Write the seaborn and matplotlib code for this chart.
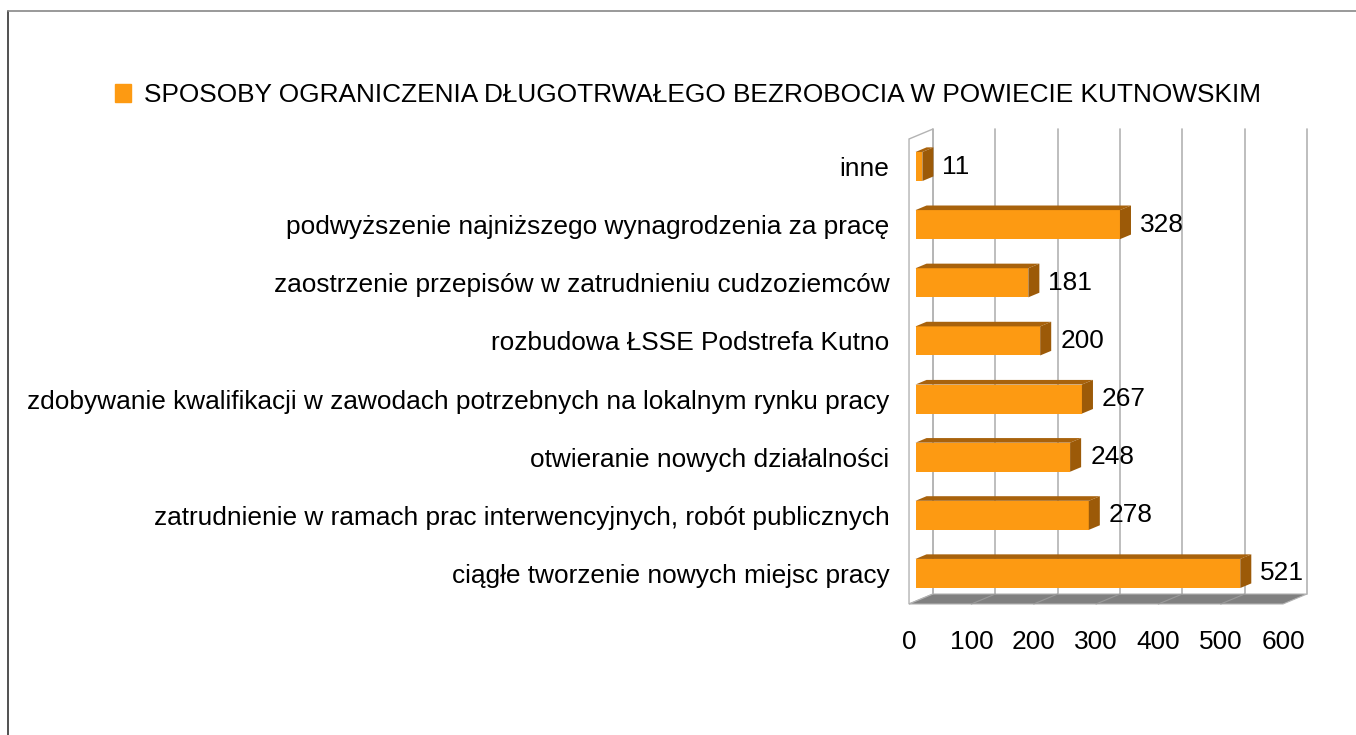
import matplotlib
matplotlib.use('Agg')
import matplotlib.pyplot as plt
import seaborn as sns
import pandas as pd
from matplotlib.patches import Polygon, Patch
from matplotlib.lines import Line2D

# ---------------- data ----------------
categories = [
    "inne",
    "podwyższenie najniższego wynagrodzenia za pracę",
    "zaostrzenie przepisów w zatrudnieniu cudzoziemców",
    "rozbudowa ŁSSE Podstrefa Kutno",
    "zdobywanie kwalifikacji w zawodach potrzebnych na lokalnym rynku pracy",
    "otwieranie nowych działalności",
    "zatrudnienie w ramach prac interwencyjnych, robót publicznych",
    "ciągłe tworzenie nowych miejsc pracy",
]
values = [11, 328, 181, 200, 267, 248, 278, 521]
series_name = "SPOSOBY OGRANICZENIA DŁUGOTRWAŁEGO BEZROBOCIA W POWIECIE KUTNOWSKIM"
x_ticks = [0, 100, 200, 300, 400, 500, 600]

df = pd.DataFrame({"kategoria": categories, "liczba": values})

# ---------------- style ----------------
W, H, DPI = 1356, 735, 100
sns.set_theme(style="white")
plt.rcParams["font.family"] = ["Liberation Sans", "DejaVu Sans"]
plt.rcParams["text.color"] = "black"
plt.rcParams["xtick.color"] = "black"
plt.rcParams["ytick.color"] = "black"
FS = 18.9
FRONT = "#fd9a12"
TOP = "#a8620c"
SIDE = "#9c5a08"
GRID = "#b3b3b3"
FLOOR = "#808080"
FLOOR_GRID = "#9a9a9a"

fig = plt.figure(figsize=(W / DPI, H / DPI), dpi=DPI)
ax_l, ax_r, ax_t, ax_b = 895, 1330, 110, 620
ax = fig.add_axes([ax_l / W, 1 - ax_b / H, (ax_r - ax_l) / W, (ax_b - ax_t) / H])
ax.set_facecolor("none")

# pixel geometry of the pseudo-3D projection
px_per_unit = 374 / 600
x0_px = 915.5
y0_px = 166.5
px_per_cat = 58.14
DXu = 24 / px_per_unit
DYu = 10 / px_per_cat
fb, bb = 0.27, 0.73          # bar front / back depth fractions
Yf = (601.3 - y0_px) / px_per_cat   # floor level (bar-front plane)
Yt = (136.3 - y0_px) / px_per_cat   # wall top level (bar-front plane)


def at(v, y, d):
    return (v + (d - fb) * DXu, y - (d - fb) * DYu)


# bars (front faces)
sns.barplot(data=df, x="liczba", y="kategoria", orient="h", width=0.5,
            color=FRONT, saturation=1, linewidth=0, ax=ax, zorder=5)

xmax = x_ticks[-1]
# left wall
ax.add_patch(Polygon([at(0, Yf, 0), at(0, Yt, 0), at(0, Yt, 1), at(0, Yf, 1)],
                     closed=True, facecolor="white", edgecolor=GRID, lw=1, zorder=1))
# back wall grid
for t in x_ticks:
    (xa, ya), (xb, yb) = at(t, Yf, 1), at(t, Yt, 1)
    ax.plot([xa, xb], [ya, yb], color=GRID, lw=1.2, zorder=1.5)
# floor
ax.add_patch(Polygon([at(0, Yf, 0), at(xmax, Yf, 0), at(xmax, Yf, 1), at(0, Yf, 1)],
                     closed=True, facecolor=FLOOR, edgecolor=GRID, lw=0.8, zorder=2))
for t in x_ticks[1:-1]:
    (xa, ya), (xb, yb) = at(t, Yf, 0), at(t, Yf, 1)
    ax.plot([xa, xb], [ya, yb], color=FLOOR_GRID, lw=0.8, zorder=2.5)

# 3D faces of bars
ddx = (bb - fb) * DXu
ddy = (bb - fb) * DYu
for p in ax.patches[:]:
    if p.zorder != 5:
        continue
    x, y, w, h = p.get_x(), p.get_y(), p.get_width(), p.get_height()
    top = min(y, y + h)
    bot = max(y, y + h)
    ax.add_patch(Polygon([(x, top), (x + w, top), (x + w + ddx, top - ddy), (x + ddx, top - ddy)],
                         closed=True, facecolor=TOP, edgecolor="none", zorder=5))
    ax.add_patch(Polygon([(x + w, top), (x + w, bot), (x + w + ddx, bot - ddy), (x + w + ddx, top - ddy)],
                         closed=True, facecolor=SIDE, edgecolor="none", zorder=5))

# value labels
for i, v in enumerate(values):
    ax.annotate(f"{v}", xy=(v + ddx, i), xytext=(9, 0), textcoords="offset pixels",
                va="center", ha="left", fontsize=FS, color="black", zorder=6)

# axes limits & ticks
ax.set_xlim((ax_l - x0_px) / px_per_unit, (ax_r - x0_px) / px_per_unit)
ax.set_ylim((ax_b - y0_px) / px_per_cat, (ax_t - y0_px) / px_per_cat)
ax.set_xticks([at(t, Yf, 0)[0] for t in x_ticks])
ax.set_xticklabels([str(t) for t in x_ticks], fontsize=FS, color="black")
ax.set_yticks(range(len(categories)))
ax.set_yticklabels(categories, fontsize=FS, color="black")
ax.tick_params(axis="x", length=0, pad=7, colors="black")
ax.tick_params(axis="y", length=0, pad=4, colors="black")
ax.set_xlabel("")
ax.set_ylabel("")
for s in ax.spines.values():
    s.set_visible(False)

# legend (acts as title)
leg = fig.legend(handles=[Patch(facecolor=FRONT, edgecolor=FRONT, label=series_name)],
                 loc="center", bbox_to_anchor=(688 / W, 1 - 95 / H), frameon=False,
                 fontsize=FS, handlelength=0.6, handleheight=0.65, handletextpad=0.5)
for txt in leg.get_texts():
    txt.set_color("black")

# outer frame (top and left edges visible)
fig.add_artist(Line2D([8 / W, 8 / W], [0, 1 - 11 / H], color="#333333", lw=1.2,
                      transform=fig.transFigure))
fig.add_artist(Line2D([8 / W, 1], [1 - 11 / H, 1 - 11 / H], color="#888888", lw=1.2,
                      transform=fig.transFigure))

fig.savefig("out.png", dpi=DPI)
